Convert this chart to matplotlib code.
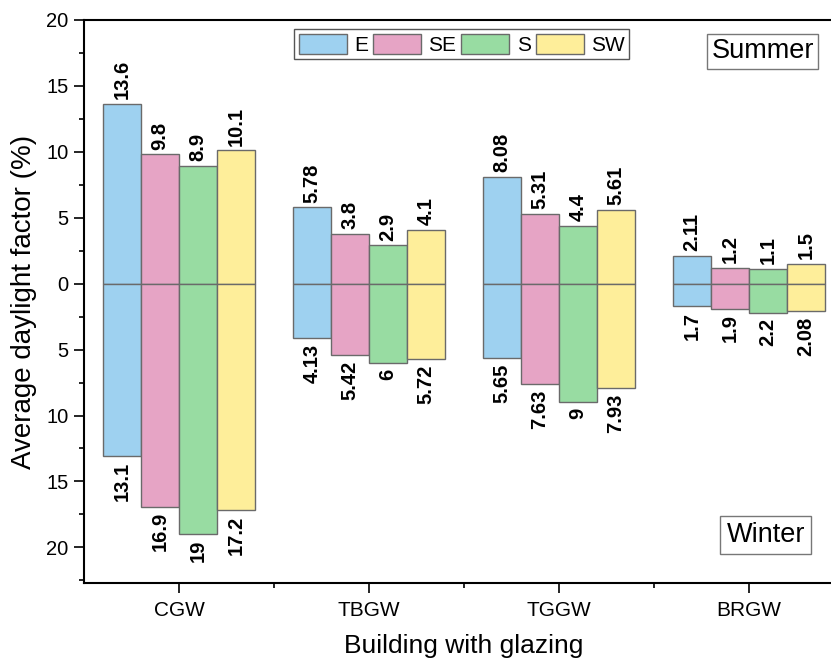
import numpy as np
import matplotlib
matplotlib.use('Agg')
import matplotlib.pyplot as plt
from matplotlib.ticker import FuncFormatter, MultipleLocator, FixedLocator

plt.rcParams['font.family'] = ['Liberation Sans', 'DejaVu Sans']

buildings = ['CGW', 'TBGW', 'TGGW', 'BRGW']
orientations = ['E', 'SE', 'S', 'SW']
colors = ['#9ED1F0', '#E6A4C5', '#98DCA2', '#FEEE9A']

# daylight factor (%) per orientation, one list per building
summer = {
    'E':  [13.6, 5.78, 8.08, 2.11],
    'SE': [9.8, 3.8, 5.31, 1.2],
    'S':  [8.9, 2.9, 4.4, 1.1],
    'SW': [10.1, 4.1, 5.61, 1.5],
}
winter = {
    'E':  [13.1, 4.13, 5.65, 1.7],
    'SE': [16.9, 5.42, 7.63, 1.9],
    'S':  [19, 6, 9, 2.2],
    'SW': [17.2, 5.72, 7.93, 2.08],
}

fig = plt.figure(figsize=(8.31, 6.64), dpi=100)
ax = fig.add_axes([0.1011, 0.122, 0.9145, 0.848])

x = np.arange(1, len(buildings) + 1)
w = 0.2
for i, (o, c) in enumerate(zip(orientations, colors)):
    pos = x + (i - 1.5) * w
    ax.bar(pos, summer[o], w, color=c, edgecolor='#6a6a6a', linewidth=1.0, label=o, zorder=2)
    ax.bar(pos, [-v for v in winter[o]], w, color=c, edgecolor='#6a6a6a', linewidth=1.0, zorder=2)
    # value labels: summer above the bar, winter below
    for px, v in zip(pos, summer[o]):
        ax.annotate(f'{v:g}', (px, v), xytext=(0, 3.5), textcoords='offset points',
                    rotation=90, ha='center', va='bottom', fontsize=14.5, fontweight='bold')
    for px, v in zip(pos, winter[o]):
        ax.annotate(f'{v:g}', (px, -v), xytext=(0, -4), textcoords='offset points',
                    rotation=90, ha='center', va='top', fontsize=14.5, fontweight='bold')

ax.set_xlim(0.5, 4.5)
ax.set_ylim(-22.7, 20)
ax.set_xticks(x)
ax.set_xticklabels(buildings)
ax.xaxis.set_minor_locator(FixedLocator([1.5, 2.5, 3.5]))
ax.yaxis.set_major_locator(MultipleLocator(5))
ax.yaxis.set_minor_locator(MultipleLocator(2.5))
ax.yaxis.set_major_formatter(FuncFormatter(lambda v, p: f'{abs(v):g}'))
ax.tick_params(axis='both', which='major', direction='out', length=7, width=1.2)
ax.tick_params(axis='both', which='minor', direction='out', length=3.5, width=1.2)
ax.tick_params(axis='x', pad=6, labelsize=15)
ax.tick_params(axis='y', pad=4, labelsize=14.5)
for s in ['left', 'bottom', 'top']:
    ax.spines[s].set_linewidth(1.5)
ax.spines['right'].set_visible(False)

ax.set_xlabel('Building with glazing', fontsize=19, labelpad=10)
ax.set_ylabel('Average daylight factor (%)', fontsize=20, labelpad=7)

leg = ax.legend(loc='upper center', bbox_to_anchor=(0.497, 0.983), ncol=4, fontsize=15,
                handlelength=2.3, handleheight=1.15, handletextpad=0.35, columnspacing=0.25,
                borderpad=0.2, borderaxespad=0, fancybox=False, edgecolor='#555555',
                framealpha=1)
leg.get_frame().set_linewidth(1.0)

ax.text(0.893, 0.944, 'Summer', transform=ax.transAxes, ha='center', va='center', fontsize=19.5,
        bbox=dict(boxstyle='square,pad=0.15', facecolor='white', edgecolor='#777777', linewidth=1.0))
ax.text(0.897, 0.085, 'Winter', transform=ax.transAxes, ha='center', va='center', fontsize=19.5,
        bbox=dict(boxstyle='square,pad=0.22', facecolor='white', edgecolor='#777777', linewidth=1.0))

fig.savefig('out.png', dpi=100)
